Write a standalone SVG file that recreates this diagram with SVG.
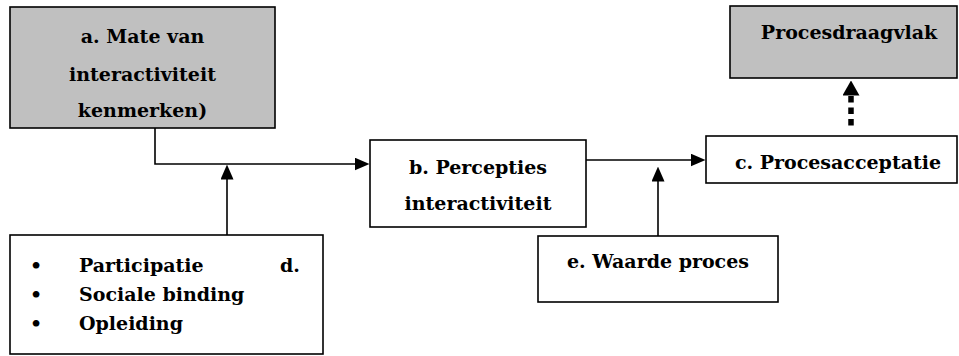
<svg xmlns="http://www.w3.org/2000/svg" width="959" height="356" viewBox="0 0 959 356">
  <style>
    .box { fill: #ffffff; stroke: #000000; stroke-width: 1.6; }
    .shaded { fill: #c0c0c0; }
    .lbl { font-family: "DejaVu Serif", "Liberation Serif", serif; font-weight: bold; font-size: 19px; fill: #000000; }
    .mid { text-anchor: middle; }
    .wire { fill: none; stroke: #000000; stroke-width: 1.6; }
    .dots { fill: none; stroke: #000000; stroke-width: 5.5; stroke-dasharray: 6.5 5; }
  </style>
  <defs>
    <marker id="head" markerUnits="userSpaceOnUse" viewBox="0 0 15 13" markerWidth="15" markerHeight="13" refX="0.5" refY="6.5" orient="auto">
      <path d="M0,0 L15,6.5 L0,13 Z" fill="#000000"/>
    </marker>
    <marker id="headWide" markerUnits="userSpaceOnUse" viewBox="0 0 15 17" markerWidth="15" markerHeight="17" refX="0.5" refY="8.5" orient="auto">
      <path d="M0,0 L15,8.5 L0,17 Z" fill="#000000"/>
    </marker>
  </defs>

  <!-- connectors -->
  <g id="connectors">
    <path class="wire" d="M155,128 V164 H355" marker-end="url(#head)"/>
    <path class="wire" d="M227,235 V179" marker-end="url(#head)"/>
    <path class="wire" d="M586,160 H691" marker-end="url(#head)"/>
    <path class="wire" d="M658,236 V181" marker-end="url(#head)"/>
    <path class="dots" d="M851,125.5 V95" marker-end="url(#headWide)"/>
  </g>

  <!-- a: interactivity characteristics -->
  <g id="node-a">
    <rect class="box shaded" x="10" y="7" width="265" height="121"/>
    <text class="lbl mid" x="142.5" y="43">a. Mate van</text>
    <text class="lbl mid" x="142.5" y="81">interactiviteit</text>
    <text class="lbl mid" x="142.5" y="117">kenmerken)</text>
  </g>

  <!-- b: perceptions -->
  <g id="node-b">
    <rect class="box" x="370" y="140" width="216" height="87"/>
    <text class="lbl mid" x="478" y="174">b. Percepties</text>
    <text class="lbl mid" x="478" y="210">interactiviteit</text>
  </g>

  <!-- c: process acceptance -->
  <g id="node-c">
    <rect class="box" x="706" y="136" width="251" height="47"/>
    <text class="lbl mid" x="838" y="169">c. Procesacceptatie</text>
  </g>

  <!-- support for the process -->
  <g id="node-draagvlak">
    <rect class="box shaded" x="730" y="6" width="227" height="72"/>
    <text class="lbl mid" x="849" y="39">Procesdraagvlak</text>
  </g>

  <!-- d: bullet list -->
  <g id="node-d">
    <rect class="box" x="10" y="235" width="313" height="119"/>
    <text class="lbl mid" x="36" y="272">•</text>
    <text class="lbl" x="79" y="272">Participatie</text>
    <text class="lbl" x="280" y="272">d.</text>
    <text class="lbl mid" x="36" y="301">•</text>
    <text class="lbl" x="79" y="301">Sociale binding</text>
    <text class="lbl mid" x="36" y="330">•</text>
    <text class="lbl" x="79" y="330">Opleiding</text>
  </g>

  <!-- e: process value -->
  <g id="node-e">
    <rect class="box" x="538" y="236" width="240" height="66"/>
    <text class="lbl mid" x="658" y="268">e. Waarde proces</text>
  </g>
</svg>
